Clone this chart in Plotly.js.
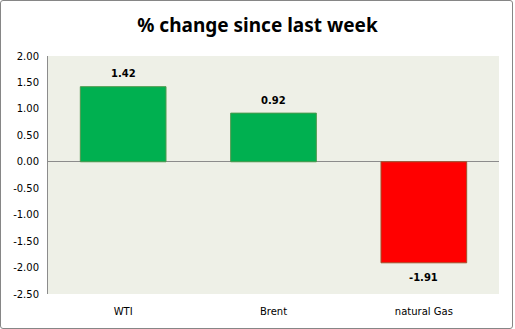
<!DOCTYPE html>
<html>
<head>
<meta charset="utf-8">
<script src="https://cdn.plot.ly/plotly-3.0.1.min.js"></script>
<style>
html,body{margin:0;padding:0;background:#fff;}
#wrap{position:relative;width:515px;height:329px;}
#chart{position:absolute;left:0;top:0;width:515px;height:329px;}
#frame{position:absolute;left:0;top:0;width:513px;height:329px;box-sizing:border-box;border:1px solid #868686;border-radius:3px;pointer-events:none;}
</style>
</head>
<body>
<div id="wrap"><div id="chart"></div><div id="frame"></div></div>
<script>
const categories = ["WTI", "Brent", "natural Gas"];
const changes = [1.42, 0.92, -1.91];
const labels = ["1.42", "0.92", "-1.91"];
const tickVals = [2.0, 1.5, 1.0, 0.5, 0.0, -0.5, -1.0, -1.5, -2.0, -2.5];
const tickText = ["2.00", "1.50", "1.00", "0.50", "0.00", "-0.50", "-1.00", "-1.50", "-2.00", "-2.50"];

const fill = changes.map(v => v >= 0 ? "#00B050" : "#FF0000");
const edge = changes.map(v => v >= 0 ? "#4E9A4E" : "#A0522D");

const trace = {
  type: "bar",
  x: categories,
  y: changes,
  marker: {color: fill, line: {color: edge, width: 1}},
  width: 0.57,
  hoverinfo: "none"
};

const annotations = categories.map((c, i) => ({
  x: c, y: changes[i], xref: "x", yref: "y",
  text: labels[i], showarrow: false,
  xanchor: "center", yanchor: "middle",
  yshift: changes[i] >= 0 ? 13 : -15,
  font: {family: "DejaVu Sans, Verdana, sans-serif", size: 10, color: "#000", weight: "bold"}
}));

const layout = {
  width: 515, height: 329,
  margin: {l: 48, r: 16, t: 56, b: 35},
  paper_bgcolor: "#ffffff",
  plot_bgcolor: "#EEF0E7",
  showlegend: false,
  annotations: annotations,
  title: {text: "% change since last week", x: 0.5, xanchor: "center", y: 0.922, yanchor: "middle",
          font: {family: "Noto Sans, Open Sans, sans-serif", size: 19, color: "#000", weight: "bold"}},
  xaxis: {
    type: "category",
    showgrid: false, zeroline: false, showline: false, ticks: "",
    ticklabelstandoff: 10,
    tickfont: {family: "DejaVu Sans, Verdana, sans-serif", size: 10, color: "#000"},
    fixedrange: true
  },
  yaxis: {
    range: [-2.5, 2.0],
    tickvals: tickVals, ticktext: tickText,
    showgrid: false,
    zeroline: true, zerolinecolor: "#8C8C8C", zerolinewidth: 1,
    showline: true, linecolor: "#8C8C8C", linewidth: 1,
    ticks: "", ticklabelstandoff: 6,
    tickfont: {family: "DejaVu Sans, Verdana, sans-serif", size: 10, color: "#000"},
    fixedrange: true
  }
};

Plotly.newPlot("chart", [trace], layout, {displayModeBar: false, staticPlot: true});
</script>
</body>
</html>
